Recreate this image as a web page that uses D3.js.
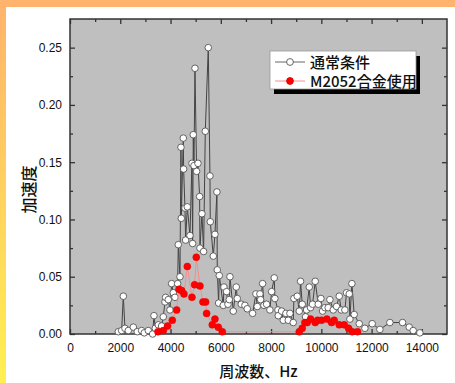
<!DOCTYPE html>
<html>
<head>
<meta charset="utf-8">
<script src="https://cdn.jsdelivr.net/npm/d3@7"></script>
<style>
  html, body { margin: 0; padding: 0; background: #fff; }
  svg { display: block; }
  text { font-family: "Liberation Sans", Arial, sans-serif; }
  .cjk { font-family: "Noto Sans CJK JP", "Noto Sans CJK SC", sans-serif; font-weight: 500; }
</style>
</head>
<body>
<script>
// Normal condition (通常条件): frequency [Hz] and acceleration
const normalHz = [1922, 2055, 2121, 2187, 2320, 2519, 2678, 2850, 2956, 3116,
  3288, 3341, 3394, 3513, 3646, 3712, 3778, 3805, 3911, 3977,
  4043, 4110, 4176, 4282, 4309, 4375, 4415, 4428, 4508, 4521,
  4574, 4600, 4667, 4773, 4852, 4879, 4905, 4932, 4972, 5038,
  5091, 5157, 5170, 5250, 5316, 5383, 5502, 5568, 5581, 5701,
  5767, 5846, 5860, 5913, 5939, 6098, 6125, 6231, 6284, 6337,
  6364, 6496, 6615, 6655, 6814, 6960, 7053, 7265, 7398, 7451,
  7557, 7583, 7663, 7716, 7822, 7954, 8021, 8127, 8153, 8273,
  8286, 8418, 8485, 8591, 8684, 8750, 8882, 8909, 9041, 9121,
  9174, 9240, 9373, 9413, 9519, 9572, 9651, 9757, 9877, 9983,
  10049, 10142, 10274, 10341, 10473, 10606, 10712, 10791, 10937, 11003,
  11110, 11136, 11216, 11308, 11507, 11733, 12024, 12329, 12727, 13231,
  13496, 13655, 13920];
const normalAcc = [0.002, 0.003, 0.033, 0.005, 0.003, 0.006, 0.002, 0.003, 0.001, 0.003,
  0.000, 0.016, 0.005, 0.008, 0.007, 0.015, 0.028, 0.032, 0.030, 0.021,
  0.044, 0.036, 0.032, 0.044, 0.078, 0.050, 0.163, 0.101, 0.171, 0.144,
  0.110, 0.082, 0.111, 0.086, 0.149, 0.079, 0.174, 0.147, 0.232, 0.142,
  0.149, 0.120, 0.075, 0.105, 0.072, 0.177, 0.250, 0.138, 0.098, 0.068,
  0.087, 0.124, 0.056, 0.027, 0.051, 0.025, 0.041, 0.037, 0.026, 0.030,
  0.050, 0.020, 0.041, 0.031, 0.026, 0.025, 0.022, 0.018, 0.035, 0.024,
  0.035, 0.030, 0.044, 0.025, 0.026, 0.021, 0.037, 0.049, 0.031, 0.021,
  0.016, 0.020, 0.012, 0.018, 0.012, 0.018, 0.010, 0.031, 0.033, 0.020,
  0.046, 0.026, 0.015, 0.021, 0.041, 0.023, 0.026, 0.046, 0.026, 0.031,
  0.020, 0.023, 0.023, 0.030, 0.021, 0.024, 0.033, 0.021, 0.021, 0.036,
  0.035, 0.013, 0.044, 0.017, 0.009, 0.005, 0.009, 0.004, 0.010, 0.010,
  0.006, 0.003, 0.001];

// With M2052 alloy (M2052合金使用)
const alloyHz = [3500, 3712, 3884, 4070, 4243, 4336, 4441, 4534, 4667, 4852,
  4958, 5025, 5170, 5290, 5396, 5436, 5661, 5767, 5900, 6059,
  9121, 9240, 9346, 9439, 9571, 9757, 9850, 10009, 10221, 10407,
  10513, 10712, 10911, 11083, 11229, 11441];
const alloyAcc = [0.002, 0.003, 0.007, 0.012, 0.021, 0.039, 0.038, 0.035, 0.059, 0.032,
  0.043, 0.067, 0.042, 0.028, 0.028, 0.018, 0.008, 0.013, 0.006, 0.002,
  0.002, 0.005, 0.010, 0.010, 0.013, 0.010, 0.012, 0.012, 0.013, 0.010,
  0.012, 0.008, 0.008, 0.005, 0.002, 0.002];

const xTicks = [0, 2000, 4000, 6000, 8000, 10000, 12000, 14000];
const yTicks = [0.00, 0.05, 0.10, 0.15, 0.20, 0.25];
const seriesNames = ["通常条件", "M2052合金使用"];
const xTitle = "周波数、Hz";
const yTitle = "加速度";

const W = 455, H = 383;
const plot = { left: 70, right: 447, top: 19, bottom: 334 };

const svg = d3.select("body").append("svg").attr("width", W).attr("height", H);

// Page frame: orange top band and a vertical orange-to-yellow strip
const defs = svg.append("defs");
const grad = defs.append("linearGradient").attr("id", "strip")
  .attr("x1", 0).attr("y1", 0).attr("x2", 0).attr("y2", 1);
grad.append("stop").attr("offset", "0%").attr("stop-color", "#ffb36c");
grad.append("stop").attr("offset", "100%").attr("stop-color", "#fff050");
svg.append("rect").attr("x", 0).attr("y", 0).attr("width", W).attr("height", H).attr("fill", "#fff");
svg.append("rect").attr("x", 0).attr("y", 0).attr("width", 6).attr("height", H).attr("fill", "url(#strip)");
svg.append("rect").attr("x", 0).attr("y", 0).attr("width", W).attr("height", 7).attr("fill", "#ffb36c");

const x = d3.scaleLinear().domain([0, 15000]).range([plot.left, plot.right]);
const y = d3.scaleLinear().domain([0, 0.275]).range([plot.bottom, plot.top]);

// Plot background
svg.append("rect")
  .attr("x", plot.left).attr("y", plot.top)
  .attr("width", plot.right - plot.left).attr("height", plot.bottom - plot.top)
  .attr("fill", "#bfbfbf");

// Inward ticks on all four sides
const xMinor = d3.range(1000, 15000, 2000);
const yMinor = d3.range(0.025, 0.275, 0.05);
function tickAxis(gen, scale, values, size, translate) {
  const g = svg.append("g").attr("transform", translate)
    .call(gen(scale).tickValues(values).tickSize(size).tickFormat(""));
  g.select(".domain").remove();
  g.selectAll(".tick line").attr("stroke", "#333").attr("stroke-width", 1.3);
  return g;
}
tickAxis(d3.axisTop, x, xTicks, 5, `translate(0,${plot.bottom})`);
tickAxis(d3.axisTop, x, xMinor, 3, `translate(0,${plot.bottom})`);
tickAxis(d3.axisBottom, x, xTicks, 5, `translate(0,${plot.top})`);
tickAxis(d3.axisBottom, x, xMinor, 3, `translate(0,${plot.top})`);
tickAxis(d3.axisRight, y, yTicks, 5, `translate(${plot.left},0)`);
tickAxis(d3.axisRight, y, yMinor, 3, `translate(${plot.left},0)`);
tickAxis(d3.axisLeft, y, yTicks, 5, `translate(${plot.right},0)`);
tickAxis(d3.axisLeft, y, yMinor, 3, `translate(${plot.right},0)`);

// Tick labels
const xl = svg.append("g").attr("transform", `translate(0,${plot.bottom + 6})`)
  .call(d3.axisBottom(x).tickValues(xTicks).tickSize(0).tickFormat(d3.format("d")));
xl.select(".domain").remove();
xl.selectAll("text").attr("font-size", 12).attr("fill", "#111")
  .attr("font-family", "Liberation Sans, Arial, sans-serif");

const yl = svg.append("g").attr("transform", `translate(${plot.left - 5},0)`)
  .call(d3.axisLeft(y).tickValues(yTicks).tickSize(0).tickFormat(d3.format(".2f")));
yl.select(".domain").remove();
yl.selectAll("text").attr("font-size", 12).attr("fill", "#111")
  .attr("font-family", "Liberation Sans, Arial, sans-serif");

// Frame
svg.append("rect")
  .attr("x", plot.left).attr("y", plot.top)
  .attr("width", plot.right - plot.left).attr("height", plot.bottom - plot.top)
  .attr("fill", "none").attr("stroke", "#333").attr("stroke-width", 1.5);

// Axis titles
svg.append("text").attr("class", "cjk")
  .attr("x", (plot.left + plot.right) / 2).attr("y", 377)
  .attr("text-anchor", "middle").attr("font-size", 15).attr("fill", "#111")
  .text(xTitle);
svg.append("text").attr("class", "cjk")
  .attr("transform", `translate(35,${(plot.top + plot.bottom) / 2 + 13}) rotate(-90)`)
  .attr("text-anchor", "middle").attr("font-size", 16).attr("fill", "#111")
  .text(yTitle);

const line = d3.line().x(d => x(d[0])).y(d => y(d[1]));
const normal = d3.zip(normalHz, normalAcc);
const alloy = d3.zip(alloyHz, alloyAcc);

const clip = defs.append("clipPath").attr("id", "plotclip");
clip.append("rect").attr("x", plot.left - 5).attr("y", plot.top)
  .attr("width", plot.right - plot.left + 10).attr("height", plot.bottom - plot.top + 5);

const data = svg.append("g").attr("clip-path", "url(#plotclip)");

// Normal condition series
data.append("path").datum(normal).attr("d", line)
  .attr("fill", "none").attr("stroke", "#444").attr("stroke-width", 1);
data.append("g").selectAll("circle").data(normal).join("circle")
  .attr("cx", d => x(d[0])).attr("cy", d => y(d[1])).attr("r", 3.3)
  .attr("fill", "#fff").attr("stroke", "#555").attr("stroke-width", 0.9);

// M2052 alloy series
data.append("path").datum(alloy).attr("d", line)
  .attr("fill", "none").attr("stroke", "#ff8a8a").attr("stroke-width", 1);
data.append("g").selectAll("circle").data(alloy).join("circle")
  .attr("cx", d => x(d[0])).attr("cy", d => y(d[1])).attr("r", 3.5)
  .attr("fill", "#ff0000").attr("stroke", "#e00000").attr("stroke-width", 0.5);

// Legend with drop shadow
const lg = svg.append("g").attr("transform", "translate(270,51)");
lg.append("rect").attr("x", 4).attr("y", 5).attr("width", 146).attr("height", 38).attr("fill", "#000");
lg.append("rect").attr("x", 0).attr("y", 0).attr("width", 146).attr("height", 38)
  .attr("fill", "#fff").attr("stroke", "#999").attr("stroke-width", 0.8);
const legendItems = [
  { name: seriesNames[0], line: "#666", fill: "#fff", stroke: "#555", dy: 11 },
  { name: seriesNames[1], line: "#ff8a8a", fill: "#ff0000", stroke: "#e00000", dy: 30 }
];
legendItems.forEach(it => {
  lg.append("line").attr("x1", 5).attr("x2", 35).attr("y1", it.dy).attr("y2", it.dy)
    .attr("stroke", it.line).attr("stroke-width", 1);
  lg.append("circle").attr("cx", 20).attr("cy", it.dy).attr("r", 3.4)
    .attr("fill", it.fill).attr("stroke", it.stroke).attr("stroke-width", 0.9);
  lg.append("text").attr("class", "cjk").attr("x", 40).attr("y", it.dy + 5.5)
    .attr("font-size", 15).attr("fill", "#111").text(it.name);
});
</script>
</body>
</html>
